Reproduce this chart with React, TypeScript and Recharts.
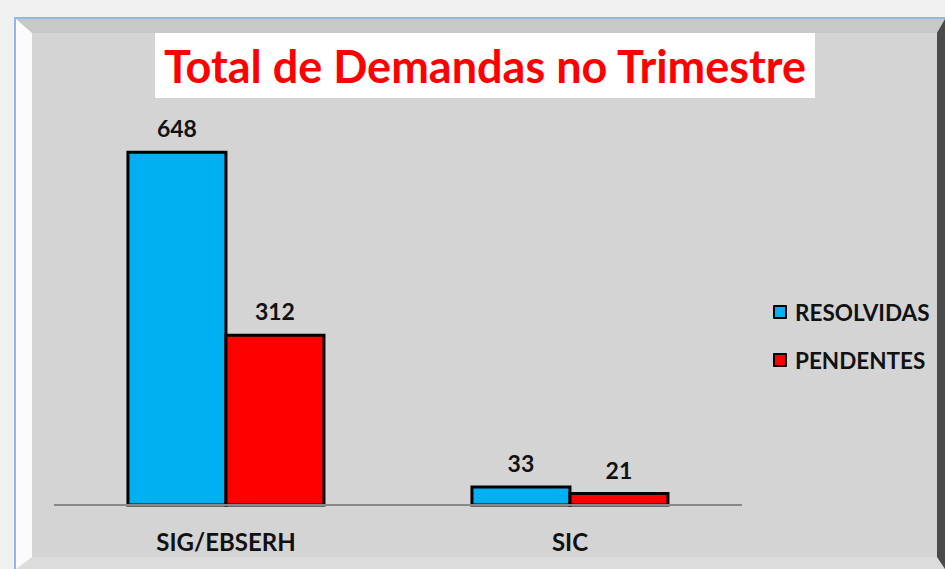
import React from 'react';
import { BarChart, Bar, XAxis, YAxis, LabelList } from 'recharts';

const categories = ['SIG/EBSERH', 'SIC'];
const resolvidas = [648, 33];
const pendentes = [312, 21];
const seriesNames = ['RESOLVIDAS', 'PENDENTES'];
const seriesColors = ['#00B0F0', '#FF0000'];

const data = categories.map((c, i) => ({ name: c, resolvidas: resolvidas[i], pendentes: pendentes[i] }));

const FONT = 'Lato, "Open Sans", sans-serif';

const Tick = (props: any) => {
  const { x, y, payload } = props;
  return (
    <text x={x} y={y} dy={38} textAnchor="middle" fontFamily={FONT} fontWeight={700} fontSize={24} fill="#111">
      {payload.value}
    </text>
  );
};

export default function App() {
  return (
    <div style={{ position: 'absolute', left: 0, top: 0, width: 945, height: 569, background: '#f0f0f0', overflow: 'hidden' }}>
      <div style={{ position: 'absolute', left: 14, top: 17, width: 940, height: 560, borderLeft: '2px solid #8fb8e6', borderTop: '2px solid #8fb8e6', boxSizing: 'border-box' }} />
      <div
        style={{
          position: 'absolute', left: 16, top: 19, width: 929, height: 550, boxSizing: 'border-box',
          background: '#d4d4d4',
          borderLeft: '16px solid #fbfbfb', borderTop: '14px solid #c8c8c8', borderRight: '8px solid #4a4a4a', borderBottom: '12px solid #dcdcdc',
        }}
      />
      <div style={{ position: 'absolute', left: 155, top: 33, width: 660, height: 65, background: '#ffffff', display: 'flex', alignItems: 'center', justifyContent: 'center' }}>
        <span style={{ fontFamily: FONT, fontWeight: 700, fontSize: 45, color: '#FF0000', whiteSpace: 'nowrap' }}>Total de Demandas no Trimestre</span>
      </div>
      <div style={{ position: 'absolute', left: 0, top: 0 }}>
        <BarChart width={945} height={569} data={data} margin={{ top: 124, right: 203, bottom: 24, left: 54 }} barCategoryGap="21.5%" barGap={0}>
          <XAxis dataKey="name" height={40} tickLine={false} axisLine={{ stroke: '#888', strokeWidth: 2 }} tick={<Tick />} interval={0} />
          <YAxis hide domain={[0, 700]} />
          <Bar dataKey="resolvidas" name={seriesNames[0]} fill={seriesColors[0]} stroke="#000" strokeWidth={3} isAnimationActive={false}>
            <LabelList dataKey="resolvidas" position="top" offset={15} fontFamily={FONT} fontWeight={700} fontSize={23} fill="#111" />
          </Bar>
          <Bar dataKey="pendentes" name={seriesNames[1]} fill={seriesColors[1]} stroke="#000" strokeWidth={3} isAnimationActive={false}>
            <LabelList dataKey="pendentes" position="top" offset={15} fontFamily={FONT} fontWeight={700} fontSize={23} fill="#111" />
          </Bar>
        </BarChart>
      </div>
      {seriesNames.map((n, i) => (
        <div key={n} style={{ position: 'absolute', left: 773, top: 299 + i * 48, height: 26, display: 'flex', alignItems: 'center' }}>
          <div style={{ width: 10, height: 10, background: seriesColors[i], border: '2.5px solid #000', borderRadius: 1 }} />
          <span style={{ marginLeft: 8, fontFamily: FONT, fontWeight: 700, fontSize: 22.5, color: '#111' }}>{n}</span>
        </div>
      ))}
    </div>
  );
}
